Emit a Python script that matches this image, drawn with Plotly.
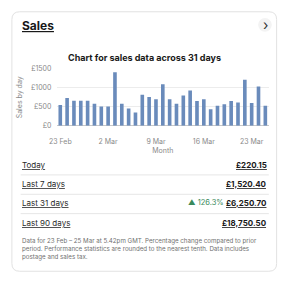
import plotly.graph_objects as go
import pandas as pd

# ---- data ----
dates = pd.date_range("2023-02-23", "2023-03-25", freq="D")
sales = [550, 730, 660, 660, 660, 580, 505, 505, 1410, 580, 455, 350, 820, 760,
         700, 1095, 700, 580, 800, 930, 650, 700, 435, 530, 565, 650, 615, 1215,
         600, 1035, 530]
tick_dates = ["2023-02-23", "2023-03-02", "2023-03-09", "2023-03-16", "2023-03-23"]
tick_labels = ["23 Feb", "2 Mar", "9 Mar", "16 Mar", "23 Mar"]
y_ticks = [0, 500, 1000, 1500]
y_labels = ["£0", "£500", "£1000", "£1500"]
row_labels = ["Today", "Last 7 days", "Last 31 days", "Last 90 days"]
row_values = ["£220.15", "£1,520.40", "£6,250.70", "£18,750.50"]
change_text = "▲ 126.3%"
footnote = ("Data for 23 Feb – 25 Mar at 5.42pm GMT. Percentage change compared to prior<br>"
            "period. Performance statistics are rounded to the nearest tenth. Data includes<br>"
            "postage and sales tax.")

W, H = 300, 283
def px(x):
    return x / W
def py(y):
    return (H - y) / H

FONT = "Inter, Roboto, Arial, sans-serif"
DARK = "#191919"
GRAY = "#707070"
AX = "#8a8a8a"

fig = go.Figure()
fig.add_trace(go.Bar(x=dates, y=sales, marker=dict(color="#6a8bbb", line=dict(width=0)),
                     hoverinfo="skip"))

x0, x1 = 50.2, 267.9
ytop, ybot = 66.0, 124.7

fig.update_layout(
    width=W, height=H, margin=dict(l=0, r=0, t=0, b=0),
    paper_bgcolor="white", plot_bgcolor="white",
    showlegend=False, bargap=0.47,
    font=dict(family=FONT, color=DARK),
    xaxis=dict(domain=[px(x0), px(x1)], type="date",
               range=[pd.Timestamp("2023-02-22 12:00"), pd.Timestamp("2023-03-25 12:00")],
               tickvals=tick_dates, ticktext=tick_labels,
               ticks="outside", ticklen=9, tickcolor="rgba(0,0,0,0)",
               tickfont=dict(size=7, color=AX), showgrid=False,
               showline=False, zeroline=False,
               title=dict(text="Month", font=dict(size=7, color=AX), standoff=2)),
    yaxis=dict(domain=[py(ybot), py(ytop)], range=[0, 1500],
               tickvals=y_ticks, ticktext=y_labels,
               ticks="outside", ticklen=3, tickcolor="rgba(0,0,0,0)",
               tickfont=dict(size=7, color=AX),
               gridcolor="#ececec", gridwidth=1, zeroline=True, zerolinecolor="#c8c8c8",
               zerolinewidth=1, showline=False,
               title=dict(text="Sales by day", font=dict(size=7, color=AX), standoff=7)),
)

shapes = []
# card border (rounded)
cx0, cx1, cy0, cy1, r = 4, 276, 7, 275, 8
path = (f"M {px(cx0+r)} {py(cy0)} L {px(cx1-r)} {py(cy0)} Q {px(cx1)} {py(cy0)} {px(cx1)} {py(cy0+r)} "
        f"L {px(cx1)} {py(cy1-r)} Q {px(cx1)} {py(cy1)} {px(cx1-r)} {py(cy1)} "
        f"L {px(cx0+r)} {py(cy1)} Q {px(cx0)} {py(cy1)} {px(cx0)} {py(cy1-r)} "
        f"L {px(cx0)} {py(cy0+r)} Q {px(cx0)} {py(cy0)} {px(cx0+r)} {py(cy0)} Z")
shapes.append(dict(type="path", path=path, xref="paper", yref="paper",
                   line=dict(color="#e2e2e2", width=1), fillcolor="rgba(0,0,0,0)", layer="below"))
# chevron circle
shapes.append(dict(type="circle", xref="paper", yref="paper",
                   x0=px(257), x1=px(271), y0=py(27.5), y1=py(13.5),
                   fillcolor="#f3f3f3", line=dict(width=0), layer="below"))
# row separators
for y in [175.5, 195.5, 215.5]:
    shapes.append(dict(type="line", xref="paper", yref="paper",
                       x0=px(13), x1=px(268), y0=py(y), y1=py(y),
                       line=dict(color="#e6e6e6", width=1)))
fig.update_layout(shapes=shapes)

ann = []
def txt(text, x, y, size, color=DARK, xanchor="left", yanchor="middle", bold=False, align="left"):
    ann.append(dict(text=f"<b>{text}</b>" if bold else text, x=px(x), y=py(y),
                    xref="paper", yref="paper", xanchor=xanchor, yanchor=yanchor,
                    showarrow=False, align=align,
                    font=dict(size=size, color=color, family=FONT)))

txt("<u>Sales</u>", 12.5, 21, 12, bold=True)
txt("›", 264.5, 20, 14, color="#333333", xanchor="center")
txt("Chart for sales data across 31 days", 140, 54, 9, xanchor="center", bold=True)

row_y = [165, 185, 204.5, 225.5]
for lab, val, y in zip(row_labels, row_values, row_y):
    txt(f"<u>{lab}</u>", 12.5, y, 8, color="#2a2a2a")
    txt(f"<u>{val}</u>", 268.5, y, 8, xanchor="right", bold=True)
txt(change_text, 224, 204.5, 7.5, color="#3a8a5c", xanchor="right")
txt(footnote, 12.5, 237.5, 6.2, color=GRAY, yanchor="top")
fig.update_layout(annotations=ann)

fig.write_html("out.html")
